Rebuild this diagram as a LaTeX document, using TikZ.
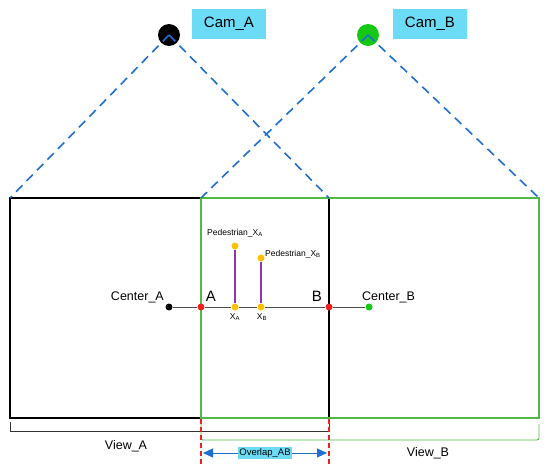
\documentclass[tikz,border=0pt]{standalone}
\usepackage{fontspec}
\setmainfont{Liberation Sans}
\usetikzlibrary{arrows.meta}
\definecolor{cyanbox}{HTML}{6CDCF6}
\definecolor{dashblue}{HTML}{1F6FD2}
\definecolor{rectgreen}{HTML}{52B848}
\definecolor{dotgreen}{HTML}{14C814}
\definecolor{dotyellow}{HTML}{FFC000}
\definecolor{pedpurple}{HTML}{8A3AB0}
\definecolor{dotred}{HTML}{F02020}
\begin{document}
\begin{tikzpicture}[x=1pt,y=-1pt,
  camdot/.style={circle,minimum size=22pt,inner sep=0pt},
  camlabel/.style={fill=cyanbox,minimum width=74pt,minimum height=30pt,inner sep=0pt,font=\fontsize{15}{17}\selectfont},
  fov/.style={dashblue,line width=1.6pt,dash pattern=on 9pt off 6pt},
  dot/.style={circle,minimum size=7pt,inner sep=0pt},
  txt/.style={inner sep=0pt,font=\fontsize{12.5}{14}\selectfont},
  small/.style={inner sep=0pt,font=\fontsize{8.5}{10}\selectfont},
  pedline/.style={pedpurple,line width=1.3pt},
  axis/.style={black!70,line width=1pt},
  reddash/.style={dotred,line width=1.2pt,dash pattern=on 5pt off 3pt}]
\useasboundingbox (0,0) rectangle (550,466);
% cameras
\node[camdot,fill=black] (camA) at (169,35) {};
\node[camdot,fill=dotgreen] (camB) at (368,35) {};
\node[camlabel] (labA) at (229,24) {Cam\_A};
\node[camlabel] (labB) at (430,24) {Cam\_B};
% view rectangles corners
\coordinate (A1) at (10,198);
\coordinate (A2) at (329,198);
\coordinate (A3) at (329,418);
\coordinate (A4) at (10,418);
\coordinate (B1) at (201,198);
\coordinate (B2) at (539,198);
\coordinate (B3) at (539,418);
\coordinate (B4) at (201,418);
\draw[black,line width=2pt] (A1) -- (A2) -- (A3) -- (A4) -- cycle;
\draw[rectgreen,line width=2pt] (B1) -- (B2) -- (B3) -- (B4) -- cycle;
% fov lines
\draw[fov] (camA.center) -- (A1);
\draw[fov] (camA.center) -- (A2);
\draw[fov] (camB.center) -- (B1);
\draw[fov] (camB.center) -- (B2);
% axis dots
\node[dot,fill=black] (cA) at (169,307) {};
\node[dot,fill=dotred] (pA) at (201,307) {};
\node[dot,fill=dotyellow] (xA) at (235,307) {};
\node[dot,fill=dotyellow] (xB) at (261,307) {};
\node[dot,fill=dotred] (pB) at (329,307) {};
\node[dot,fill=dotgreen] (cB) at (369,307) {};
\draw[axis] (cA) -- (pA) -- (xA) -- (xB) -- (pB) -- (cB);
\node[dot,fill=dotyellow] (tA) at (235,246) {};
\node[dot,fill=dotyellow] (tB) at (261,258) {};
\draw[pedline] (tA) -- (xA);
\draw[pedline] (tB) -- (xB);
% labels
\node[small] (ltA) at (235,233) {Pedestrian\_X\textsubscript{A}};
\node[small,anchor=west] (ltB) at (265,254) {Pedestrian\_X\textsubscript{B}};
\node[small] (lxA) at (235,317) {X\textsubscript{A}};
\node[small] (lxB) at (262,317) {X\textsubscript{B}};
\node[txt,anchor=east] (lcA) at (164,297) {Center\_A};
\node[txt,anchor=west] (lcB) at (362,297) {Center\_B};
\node[inner sep=0pt,font=\fontsize{15}{17}\selectfont] (lA) at (211,296) {A};
\node[inner sep=0pt,font=\fontsize{15}{17}\selectfont] (lB) at (317,296) {B};
% brackets
\coordinate (bA1) at (10,422);
\coordinate (bA2) at (10,431);
\coordinate (bA3) at (329,431);
\coordinate (bA4) at (329,422);
\draw[black!80,line width=0.9pt] (bA1) -- (bA2) -- (bA3) -- (bA4);
\coordinate (bB1) at (201,422);
\coordinate (bB2) at (201,440);
\coordinate (bB3) at (539,440);
\coordinate (bB4) at (539,424);
\draw[rectgreen,line width=0.9pt,rounded corners=2pt] (bB1) -- (bB2) -- (bB3) -- (bB4);
\node[txt] (vA) at (126,446) {View\_A};
\node[txt] (vB) at (428,453) {View\_B};
% overlap
\coordinate (r1) at (201,419);
\coordinate (r2) at (201,466);
\coordinate (r3) at (329,419);
\coordinate (r4) at (329,466);
\draw[reddash] (r1) -- (r2);
\draw[reddash] (r3) -- (r4);
\node[fill=cyanbox,inner sep=1.5pt,minimum height=12pt,font=\fontsize{9.5}{11}\selectfont] (ov) at (265,453) {Overlap\_AB};
\coordinate (o1) at (203,453);
\coordinate (o2) at (327,453);
\draw[dashblue,line width=1pt,-{Triangle[length=10pt,width=9pt]}] (ov) -- (o1);
\draw[dashblue,line width=1pt,-{Triangle[length=10pt,width=9pt]}] (ov) -- (o2);
\end{tikzpicture}
\end{document}
